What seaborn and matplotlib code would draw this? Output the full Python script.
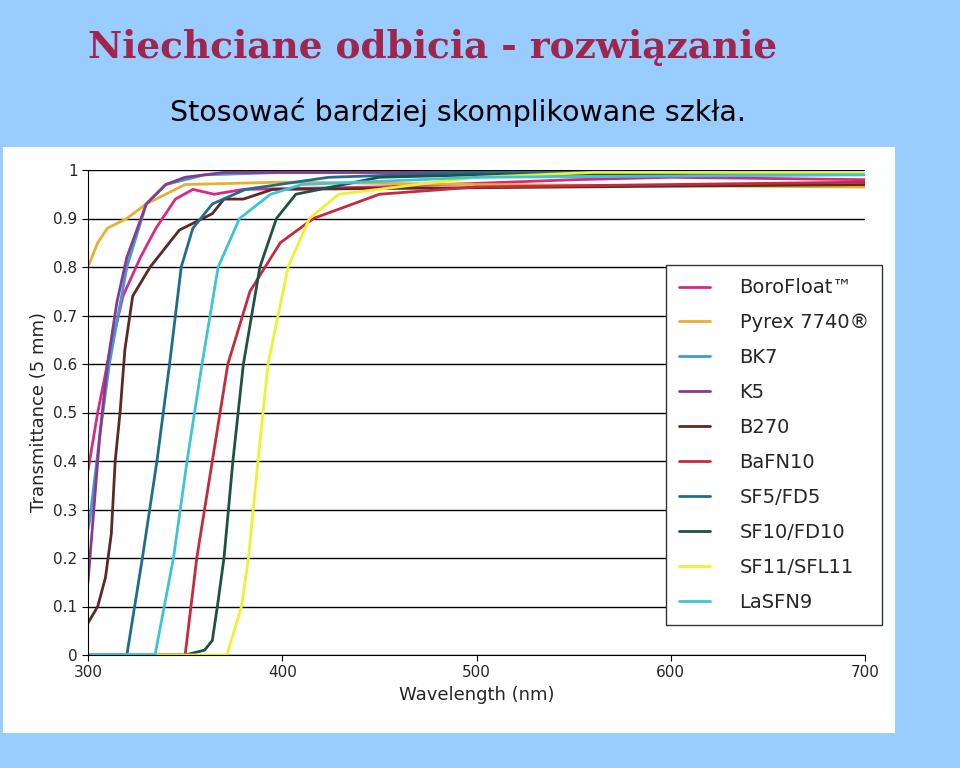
import matplotlib
matplotlib.use("Agg")
import matplotlib.pyplot as plt
import seaborn as sns
import pandas as pd

names = ["BoroFloat™", "Pyrex 7740®", "BK7", "K5", "B270", "BaFN10",
         "SF5/FD5", "SF10/FD10", "SF11/SFL11", "LaSFN9"]
colors = ["#D62A84", "#E6B030", "#3E9AD8", "#8A3A8A", "#5C2A22", "#C62A3E",
          "#1F6D8E", "#1D5244", "#EEF030", "#3CC4D8"]

boro_x = [300, 305, 311, 318, 327, 335, 345, 354, 365, 380, 450, 550, 600, 700]
boro_y = [0.38, 0.5, 0.62, 0.74, 0.82, 0.88, 0.94, 0.96, 0.95, 0.96, 0.965, 0.98, 0.985, 0.98]
pyrex_x = [300, 305, 310, 320, 330, 340, 350, 400, 500, 700]
pyrex_y = [0.8, 0.85, 0.88, 0.9, 0.93, 0.95, 0.97, 0.975, 0.97, 0.965]
bk7_x = [300, 301, 306, 311, 320, 330, 340, 360, 400, 700]
bk7_y = [0.26, 0.28, 0.45, 0.6, 0.8, 0.93, 0.97, 0.99, 0.995, 0.995]
k5_x = [300, 303, 306, 310, 315, 320, 330, 340, 350, 370, 700]
k5_y = [0.15, 0.3, 0.45, 0.6, 0.73, 0.82, 0.93, 0.97, 0.985, 0.995, 0.995]
b270_x = [300, 305, 309, 312, 314, 316.5, 319, 323, 332, 347, 364, 370, 380, 395, 700]
b270_y = [0.066, 0.1, 0.16, 0.25, 0.4, 0.5, 0.63, 0.74, 0.8, 0.876, 0.91, 0.94, 0.94, 0.96, 0.97]
bafn_x = [300, 350, 356, 364, 372, 383.4, 399, 416, 450, 500, 700]
bafn_y = [0, 0, 0.2, 0.4, 0.6, 0.75, 0.85, 0.9, 0.95, 0.965, 0.975]
sf5_x = [300, 320, 328, 335.5, 342, 348, 354, 364, 381, 424, 500, 700]
sf5_y = [0, 0, 0.2, 0.4, 0.6, 0.8, 0.88, 0.93, 0.96, 0.985, 0.995, 0.995]
sf10_x = [300, 350, 360, 364, 366.6, 370, 374.6, 380, 388.5, 397, 407, 450, 500, 700]
sf10_y = [0, 0, 0.01, 0.03, 0.1, 0.2, 0.4, 0.6, 0.8, 0.9, 0.95, 0.985, 0.99, 0.995]
sf11_x = [300, 371.5, 379, 382.6, 387.5, 392.7, 403, 414, 429, 500, 560, 700]
sf11_y = [0, 0, 0.1, 0.2, 0.4, 0.6, 0.8, 0.9, 0.95, 0.985, 0.995, 0.995]
lasf_x = [300, 334.5, 344, 351, 358.7, 367, 378, 394, 410, 500, 700]
lasf_y = [0, 0, 0.2, 0.4, 0.6, 0.8, 0.9, 0.95, 0.97, 0.985, 0.99]

series = [(boro_x, boro_y), (pyrex_x, pyrex_y), (bk7_x, bk7_y), (k5_x, k5_y),
          (b270_x, b270_y), (bafn_x, bafn_y), (sf5_x, sf5_y), (sf10_x, sf10_y),
          (sf11_x, sf11_y), (lasf_x, lasf_y)]
rows = []
for n, (xs, ys) in zip(names, series):
    for x, y in zip(xs, ys):
        rows.append({"glass": n, "wl": x, "T": y})
df = pd.DataFrame(rows)

sns.set_style("white")
fig = plt.figure(figsize=(9.6, 7.68), dpi=100, facecolor="#99CCFF")
bg = fig.add_axes([3/960, 1-733/768, 892/960, 586/768], zorder=-5)
bg.set_facecolor("white")
bg.set_xticks([]); bg.set_yticks([])
for s in bg.spines.values():
    s.set_visible(False)

fig.text(88/960, 1-48/768, "Niechciane odbicia - rozwiązanie", family="DejaVu Serif",
         fontweight="bold", fontsize=27, color="#A0264E", va="center", ha="left")
fig.text(458/960, 1-112/768, "Stosować bardziej skomplikowane szkła.",
         fontsize=20.5, color="black", va="center", ha="center")

ax = fig.add_axes([88/960, 1-655/768, 777/960, 485/768], zorder=1)
ax.set_facecolor("white")
sns.lineplot(data=df, x="wl", y="T", hue="glass", hue_order=names,
             palette=colors, ax=ax, linewidth=2, sort=False, estimator=None)
ax.set_xlim(300, 700)
ax.set_ylim(0, 1)
ax.set_xticks([300, 400, 500, 600, 700])
ax.set_yticks([i/10 for i in range(11)])
ax.set_yticklabels(["0", "0.1", "0.2", "0.3", "0.4", "0.5", "0.6", "0.7", "0.8", "0.9", "1"])
ax.yaxis.grid(True, color="black", linewidth=1)
ax.xaxis.grid(False)
ax.set_axisbelow(True)
for s in ["top", "right"]:
    ax.spines[s].set_visible(False)
for s in ["left", "bottom"]:
    ax.spines[s].set_color("black")
ax.tick_params(axis="both", labelsize=11, length=4, direction="out", color="black",
               left=True, bottom=True)
ax.set_xlabel("Wavelength (nm)", fontsize=13)
ax.set_ylabel("Transmittance (5 mm)", fontsize=13)
leg = ax.legend(loc="upper left", bbox_to_anchor=((656-88)/777, (655-255)/485),
                frameon=True, fontsize=14, labelspacing=0.82, handlelength=1.6,
                borderpad=0.7, handletextpad=1.5, fancybox=False, framealpha=1)
leg.get_frame().set_edgecolor("#333333")
fig.savefig("out.png", dpi=100, facecolor=fig.get_facecolor())
